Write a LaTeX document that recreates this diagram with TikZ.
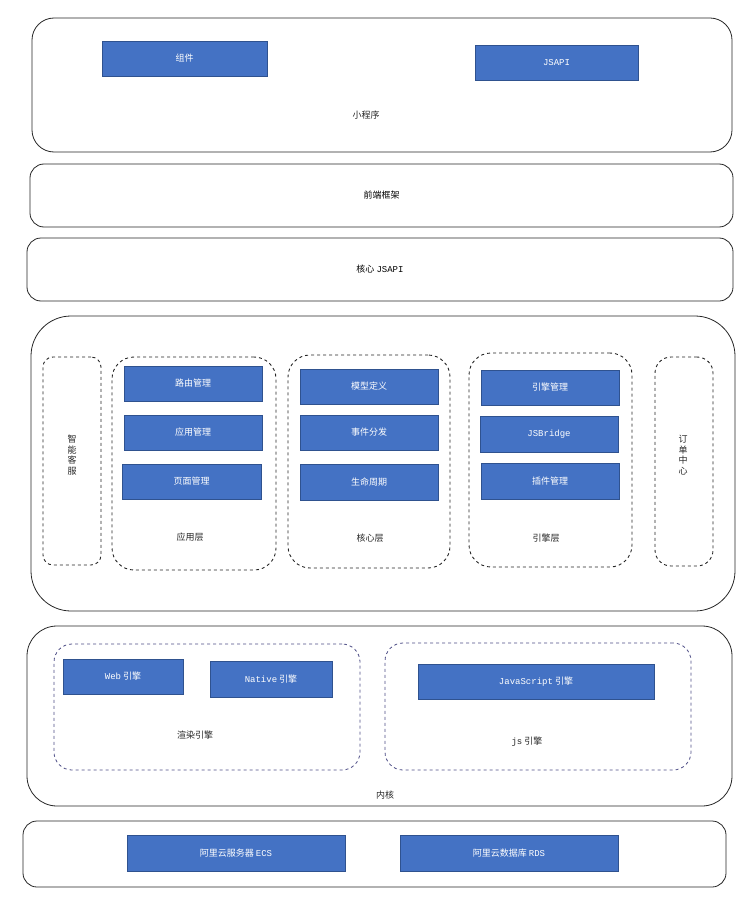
\documentclass[tikz,border=0pt]{standalone}
\usepackage{fontspec}
\setmainfont{Noto Sans CJK SC}
\setmonofont{Liberation Mono}
\begin{document}
\begin{tikzpicture}[x=1pt,y=-1pt,
  font=\fontsize{9}{11}\selectfont,
  outer/.style={draw=black!85,line width=0.8pt,rounded corners=22pt,rectangle,inner sep=0pt},
  dbox/.style={draw=black!85,dashed,line width=0.9pt,rounded corners=16pt,rectangle,inner sep=0pt},
  gbox/.style={draw=black!45!blue!40!gray,dashed,line width=0.8pt,rounded corners=18pt,rectangle,inner sep=0pt},
  bluebox/.style={draw=blue!40!black!80,fill=blue!55!cyan!30!gray!80!blue!90,rectangle,text=white,inner sep=0pt,line width=0.6pt},
  lbl/.style={text=black!85}]
\definecolor{bfill}{HTML}{4472C4}
\definecolor{bdraw}{HTML}{2F528F}
\tikzset{bluebox/.style={draw=bdraw,fill=bfill,rectangle,text=white,inner sep=0pt,line width=0.6pt}}
\useasboundingbox (0,0) rectangle (747,920);
\newcommand\bxat[6]{\node[#1,minimum width={#4-#2},minimum height={#5-#3}] (#6) at ({(#2+#4)/2},{(#3+#5)/2}) {};}
% top
\bxat{outer}{32}{18}{732}{152}{mp}
\node[bluebox,minimum width=165,minimum height=35] (zj) at (184.5,58.5) {组件};
\node[bluebox,minimum width=163,minimum height=35] (jsapi) at (556.5,62.5) {\ttfamily JSAPI};
\node[lbl] (mpl) at (366,115) {小程序};
\node[outer,rounded corners=14pt,minimum width=703,minimum height=63] (qd) at (381.5,195.5) {前端框架};
\node[outer,rounded corners=14pt,minimum width=706,minimum height=63] (hx) at (380,269.5) {核心 {\ttfamily JSAPI}};
% middle
\bxat{outer,rounded corners=40pt}{31}{316}{735}{611}{mid}
\node[dbox,rounded corners=10pt,minimum width=58,minimum height=208] (zn) at (72,461) {};
\node[lbl,align=center,font=\fontsize{9}{10.5}\selectfont] (znl) at (72,455) {智\\能\\客\\服};
\node[dbox,minimum width=58,minimum height=209] (dd) at (684,461.5) {};
\node[lbl,align=center,font=\fontsize{9}{10.5}\selectfont] (ddl) at (683,455) {订\\单\\中\\心};
\node[dbox,rounded corners=22pt,minimum width=164,minimum height=213] (yy) at (194,463.5) {};
\node[bluebox,minimum width=138,minimum height=35] (a1) at (193,383.5) {路由管理};
\node[bluebox,minimum width=138,minimum height=35] (a2) at (193,432.5) {应用管理};
\node[bluebox,minimum width=139,minimum height=35] (a3) at (191.5,481.5) {页面管理};
\node[lbl] (yyl) at (190,537) {应用层};
\node[dbox,rounded corners=22pt,minimum width=162,minimum height=213] (hxc) at (369,461.5) {};
\node[bluebox,minimum width=138,minimum height=35] (b1) at (369,386.5) {模型定义};
\node[bluebox,minimum width=138,minimum height=35] (b2) at (369,432.5) {事件分发};
\node[bluebox,minimum width=138,minimum height=36] (b3) at (369,482) {生命周期};
\node[lbl] (hxl) at (370,538) {核心层};
\node[dbox,rounded corners=22pt,minimum width=163,minimum height=214] (yq) at (550.5,460) {};
\node[bluebox,minimum width=138,minimum height=35] (c1) at (550,387.5) {引擎管理};
\node[bluebox,minimum width=138,minimum height=36] (c2) at (549,434) {\ttfamily JSBridge};
\node[bluebox,minimum width=138,minimum height=36] (c3) at (550,481) {插件管理};
\node[lbl] (yql) at (546,538) {引擎层};
% kernel
\bxat{outer,rounded corners=30pt}{27}{626}{732}{806}{nh}
\node[lbl] (nhl) at (385,795) {内核};
\node[gbox,minimum width=306,minimum height=126] (xr) at (207,707) {};
\node[bluebox,minimum width=120,minimum height=35] (web) at (123,676.5) {{\ttfamily Web} 引擎};
\node[bluebox,minimum width=122,minimum height=36] (nat) at (271,679) {{\ttfamily Native} 引擎};
\node[lbl] (xrl) at (195,735) {渲染引擎};
\node[gbox,minimum width=306,minimum height=127] (js) at (538,706.5) {};
\node[bluebox,minimum width=236,minimum height=35] (jse) at (536,681.5) {{\ttfamily JavaScript} 引擎};
\node[lbl] (jsl) at (527,742) {{\ttfamily js} 引擎};
% bottom
\node[outer,rounded corners=14pt,minimum width=703,minimum height=66] (bt) at (374.5,854) {};
\node[bluebox,minimum width=218,minimum height=36] (ecs) at (236,853) {阿里云服务器 {\ttfamily ECS}};
\node[bluebox,minimum width=218,minimum height=36] (rds) at (509,853) {阿里云数据库 {\ttfamily RDS}};
\end{tikzpicture}
\end{document}
